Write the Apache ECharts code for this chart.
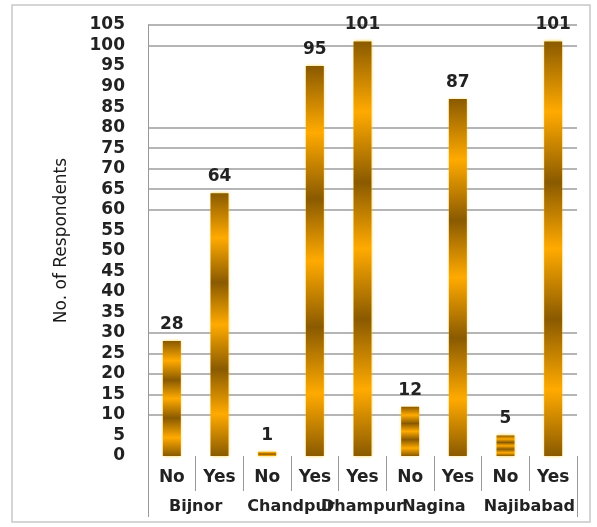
<!DOCTYPE html>
<html>
<head>
<meta charset="utf-8">
<script src="https://cdn.jsdelivr.net/npm/echarts@6/dist/echarts.min.js"></script>
<style>
html, body { margin: 0; padding: 0; background: #fff; }
#main { width: 597px; height: 527px; }
</style>
</head>
<body>
<div id="main"></div>
<script>
var answers = ['No', 'Yes', 'No', 'Yes', 'Yes', 'No', 'Yes', 'No', 'Yes'];
var respondents = [28, 64, 1, 95, 101, 12, 87, 5, 101];
var places = ['Bijnor', 'Chandpur', 'Dhampur', 'Nagina', 'Najibabad'];
var placeSpans = [2, 2, 1, 2, 2];
var yTicks = [0, 105, 5];

// group labels sit on a half-step axis (2 points per category + 1)
var groupSlots = [];
for (var i = 0; i <= answers.length * 2; i++) groupSlots.push('');
var pos = 0;
places.forEach(function (p, k) {
    groupSlots[pos * 2 + placeSpans[k]] = p;
    pos += placeSpans[k];
});

// gridlines that show in the picture (by tick index 0,5,...,105)
var shown = [10, 15, 20, 25, 30, 60, 65, 70, 75, 80, 100, 105];
var gridColors = [];
for (var v = yTicks[0]; v <= yTicks[1]; v += yTicks[2]) {
    gridColors.push(shown.indexOf(v) >= 0 ? '#9c9c9c' : 'rgba(0,0,0,0)');
}

var dark = '#8a5a00', gold = '#ffaa00';
var barFill = new echarts.graphic.LinearGradient(0, 0, 0, 1, [
    { offset: 0, color: dark },
    { offset: 0.17, color: gold },
    { offset: 0.34, color: dark },
    { offset: 0.5, color: gold },
    { offset: 0.67, color: dark },
    { offset: 0.84, color: gold },
    { offset: 1, color: dark }
]);

var myChart = echarts.init(document.getElementById('main'));
var option = {
    animation: false,
    textStyle: { fontFamily: 'DejaVu Sans' },
    graphic: [{
        type: 'rect',
        shape: { x: 12, y: 5, width: 578, height: 517 },
        style: { fill: 'none', stroke: '#c8c8c8', lineWidth: 1.5 }
    }],
    grid: { left: 148, right: 20, top: 25, bottom: 71 },
    xAxis: [{
        type: 'category',
        data: answers,
        axisLine: { show: false },
        axisTick: { show: true, interval: 0, length: 35, lineStyle: { color: '#999' } },
        axisLabel: { interval: 0, margin: 13, fontSize: 17, fontWeight: 'bold', color: '#222' }
    }, {
        type: 'category',
        position: 'bottom',
        data: groupSlots,
        boundaryGap: false,
        axisLine: { show: false },
        axisTick: {
            show: true, length: 61, lineStyle: { color: '#999' },
            interval: function (idx) { return idx === 0 || idx === groupSlots.length - 1; }
        },
        axisLabel: { interval: 0, margin: 43, fontSize: 16, fontWeight: 'bold', color: '#222' }
    }],
    yAxis: {
        type: 'value',
        min: yTicks[0],
        max: yTicks[1],
        interval: yTicks[2],
        name: 'No. of Respondents',
        nameLocation: 'middle',
        nameGap: 78,
        nameRotate: 90,
        nameTextStyle: { fontSize: 17, color: '#1a1a1a' },
        axisLine: { show: true, lineStyle: { color: '#999' } },
        axisTick: { show: false },
        axisLabel: { margin: 23, fontSize: 17, fontWeight: 'bold', color: '#222' },
        splitLine: { lineStyle: { color: gridColors, width: 1.5 } }
    },
    series: [{
        type: 'bar',
        data: respondents,
        barWidth: 18,
        itemStyle: { color: barFill, shadowColor: 'rgba(255,200,0,0.8)', shadowBlur: 3 },
        label: { show: true, position: 'top', distance: 8, fontSize: 17, fontWeight: 'bold', color: '#222' }
    }]
};

myChart.setOption(option);
</script>
</body>
</html>
